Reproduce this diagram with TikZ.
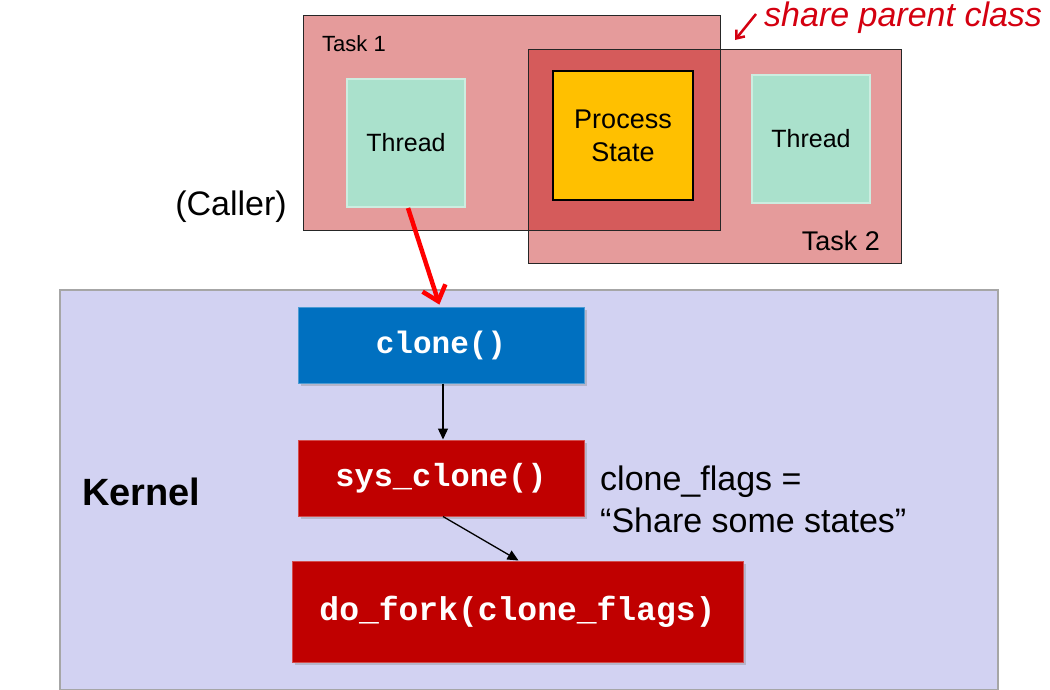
\documentclass[tikz,border=0pt]{standalone}
\usepackage{fontspec}
\setmainfont{Liberation Sans}
\newfontfamily\codefont{Liberation Mono}
\usetikzlibrary{arrows.meta,shadows}
\definecolor{taskfill}{HTML}{E59B9B}
\definecolor{overlapfill}{HTML}{D55B5B}
\definecolor{statefill}{HTML}{FFC000}
\definecolor{threadfill}{HTML}{AAE1CC}
\definecolor{kernelfill}{HTML}{D2D2F2}
\definecolor{bluebox}{HTML}{0070C0}
\definecolor{redbox}{HTML}{C00000}
\definecolor{pen}{HTML}{D40010}
\tikzset{
  threadbox/.style={draw=threadfill!60!white, line width=2pt, fill=threadfill, minimum width=118pt, minimum height=128pt, font=\fontsize{25}{28}\selectfont, inner sep=0pt},
  statebox/.style={draw=black, line width=1.5pt, fill=statefill, minimum width=140pt, minimum height=129pt, font=\fontsize{27}{33}\selectfont, align=center, inner sep=0pt},
  codebox/.style={fill=#1, draw=#1!70!white, line width=1pt, drop shadow={shadow xshift=3pt, shadow yshift=-3pt, opacity=0.35}, text=white, inner sep=0pt},
  lbl/.style={font=\fontsize{#1}{#1}\selectfont, inner sep=0pt},
  flow/.style={-{Triangle[length=11pt,width=10pt]}, line width=1.3pt, black},
  callarrow/.style={-{Straight Barb[length=14pt,width=24pt,line width=4.5pt]}, line width=4.5pt, red, shorten >=2pt},
}
\begin{document}
\begin{tikzpicture}[x=1pt,y=-1pt]
\useasboundingbox (0,0) rectangle (1050,689);
% kernel
\node[draw=black!35, line width=1.5pt, fill=kernelfill, minimum width=938pt, minimum height=400pt, inner sep=0pt] (kernel) at (529,490) {};
% tasks
\node[fill=taskfill, minimum width=416pt, minimum height=214pt, inner sep=0pt] (task1) at (512,123) {};
\node[fill=taskfill, minimum width=372pt, minimum height=213pt, inner sep=0pt] (task2) at (715,156.5) {};
\node[fill=overlapfill, minimum width=191pt, minimum height=180pt, inner sep=0pt] (overlap) at (624.5,140) {};
\draw[black!85, line width=1pt] (task1.north west) rectangle (task1.south east);
\draw[black!85, line width=1pt] (task2.north west) rectangle (task2.south east);
\node[lbl=22, anchor=west] (t1lbl) at (322,44) {Task 1};
\node[lbl=27, anchor=east] (t2lbl) at (880,241) {Task 2};
% inner boxes
\node[threadbox] (thread1) at (406,143) {Thread};
\node[threadbox] (thread2) at (811,139) {Thread};
\node[statebox] (state) at (623,135.5) {Process\\State};
% caller
\node[lbl=34, anchor=east] (caller) at (287,207) {(Caller)};
% handwritten note
\node[anchor=west, inner sep=0pt, text=pen, font=\itshape\fontsize{34}{34}\selectfont] (note) at (764,18) {share parent class};
\coordinate (notetip) at (735,40);
\draw[pen, line width=2.5pt, -{Straight Barb[length=7pt,width=11pt]}] (note.west) ++(-8,-4) -- (notetip);
% kernel contents
\node[inner sep=0pt, font=\bfseries\fontsize{38}{38}\selectfont, anchor=west] (klbl) at (82,492) {Kernel};
\node[codebox=bluebox, minimum width=286pt, minimum height=76pt, font=\codefont\bfseries\fontsize{31}{34}\selectfont] (clone) at (441,345) {clone()};
\node[codebox=redbox, minimum width=286pt, minimum height=76pt, font=\codefont\bfseries\fontsize{32}{34}\selectfont] (sysclone) at (441,478) {sys\_clone()};
\node[codebox=redbox, minimum width=451pt, minimum height=101pt, font=\codefont\bfseries\fontsize{33}{36}\selectfont] (dofork) at (517.5,611.5) {do\_fork(clone\_flags)};
\node[anchor=west, align=left, inner sep=0pt, font=\fontsize{34}{42}\selectfont] (flags) at (600,499) {clone\_flags =\\“Share some states”};
% connectors
\draw[callarrow] ([xshift=2pt]thread1.south) -- ([xshift=-1pt]clone.north);
\draw[flow] ([xshift=2pt]clone.south) -- ([xshift=2pt]sysclone.north);
\draw[flow] ([xshift=2pt]sysclone.south) -- ([xshift=1pt]dofork.north);
\end{tikzpicture}
\end{document}
